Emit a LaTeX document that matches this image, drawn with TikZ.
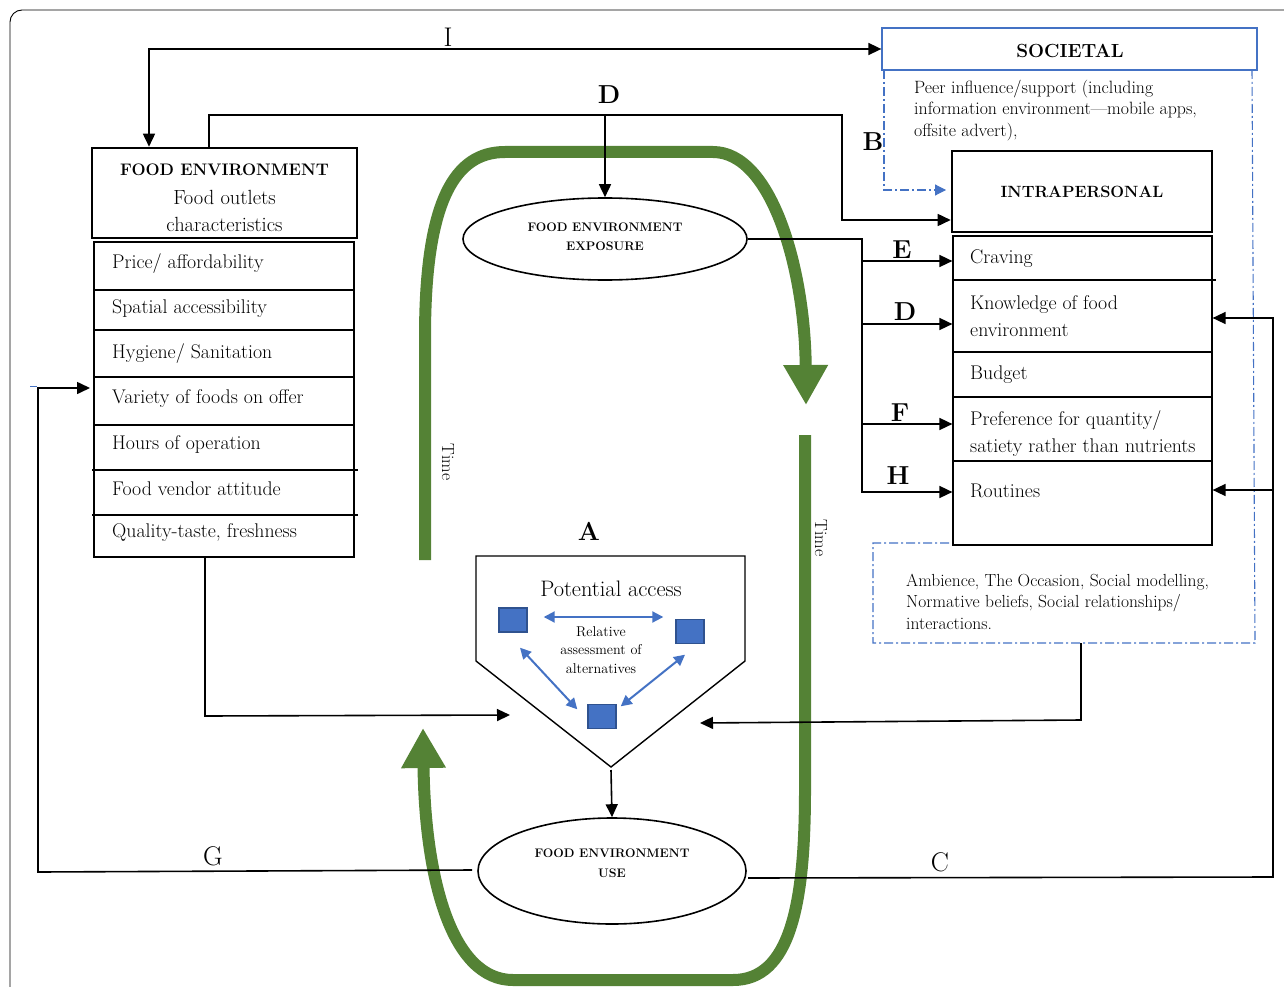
\documentclass[tikz,border=0pt]{standalone}
\usetikzlibrary{arrows.meta,shapes.geometric,calc}
\definecolor{gr}{HTML}{548235}
\definecolor{bl}{HTML}{4472C4}
\definecolor{sqb}{HTML}{2F528F}
\newcommand\myfs[2]{\fontsize{#1}{#2}\selectfont}
\begin{document}
\begin{tikzpicture}[x=1pt,y=-1pt,
  ln/.style={line width=1.6pt},
  conn/.style={line width=1.6pt,-{Triangle[length=13pt,width=12pt]}},
  bothconn/.style={line width=1.6pt,{Triangle[length=13pt,width=12pt]}-{Triangle[length=13pt,width=12pt]}},
  box/.style={draw,line width=1.2pt,inner sep=0pt},
  hbox/.style={draw,line width=2.6pt,inner sep=0pt},
  item/.style={anchor=west,font=\myfs{19.8}{27},align=left,inner sep=0pt},
  lett/.style={font=\bfseries\myfs{26}{30},inner sep=0pt},
  lettr/.style={font=\myfs{27}{30},inner sep=0pt},
  garrow/.style={draw=gr,line width=12pt,-{Triangle[length=40pt,width=42pt]}},
  ddash/.style={draw=bl,line width=1.1pt,dash pattern=on 9pt off 3pt on 2pt off 3pt},
  sq/.style={draw=sqb,fill=bl,line width=1.4pt,minimum width=28pt,minimum height=24pt,inner sep=0pt},
  barrow/.style={draw=bl,line width=2pt,{Triangle[length=11pt,width=11pt]}-{Triangle[length=11pt,width=11pt]}},
  ell/.style={ellipse,draw,line width=1.6pt,inner sep=0pt},
]
\useasboundingbox (0,0) rectangle (1284,987);
% frame
\draw[line width=0.9pt,rounded corners=12pt] (1300,10) -- (10,10) -- (10,1000);

% ---------- green time arrows ----------
\draw[garrow] (425,560) -- (425,337) .. controls (425,200) and (455,152) .. (505,152)
   -- (713,152) .. controls (772,152) and (805,270) .. (806,405);
\draw[garrow] (805,435) -- (805,790) .. controls (805,905) and (790,980) .. (733,980)
   -- (513,980) .. controls (452,980) and (425,880) .. (423,728);
\node[rotate=-90,font=\myfs{17.5}{18}] (t1) at (448,462) {Time};
\node[rotate=-90,font=\myfs{17.5}{18}] (t2) at (821,538) {Time};

% ---------- food environment ----------
\node[hbox,minimum width=265pt,minimum height=90pt] (fehead) at (224.5,193) {};
\node[font=\bfseries\myfs{16.7}{20}] (fet1) at (224.5,170) {FOOD ENVIRONMENT};
\node[font=\myfs{20.5}{27},align=center] (fet2) at (224.5,210.5) {Food outlets\\characteristics};
\node[box,minimum width=260pt,minimum height=315pt] (felist) at (224,399.5) {};
\foreach \yy in {290,330,377,425}{\draw[line width=1.2pt] (94,\yy) -- (354,\yy);}
\foreach \yy in {470,515}{\draw[line width=1.2pt] (92,\yy) -- (358,\yy);}
\node[item] (p1) at (112,264) {Price/ affordability};
\node[item] (p2) at (112,309) {Spatial accessibility};
\node[item] (p3) at (112,354) {Hygiene/ Sanitation};
\node[item] (p4) at (112,399) {Variety of foods on offer};
\node[item] (p5) at (112,444) {Hours of operation};
\node[item] (p6) at (112,489) {Food vendor attitude};
\node[item] (p7) at (112,533) {Quality-taste, freshness};

% ---------- societal ----------
\node[draw=bl,line width=1.3pt,minimum width=375pt,minimum height=42pt,inner sep=0pt] (soc) at (1069.5,49) {};
\node[font=\bfseries\myfs{19}{20}] (soct) at (1070,51) {SOCIETAL};
\node[anchor=west,align=left,font=\myfs{17.8}{21.5},inner sep=0pt] (peer) at (914,110.5)
  {Peer influence/support (including\\information environment---mobile apps,\\offsite advert),};
\coordinate (bs) at (884,70);
\coordinate (bc) at (884,190);
\coordinate (be) at (946,190);
\draw[ddash,-{Triangle[length=11pt,width=11pt]}] (bs) -- (bc) -- (be);
\draw[ddash] (1252,70) -- (1255,643) -- (873,643) -- (873,543) -- (952,543);
\node[lett] (lb) at (873,142) {B};
\node[anchor=west,align=left,font=\myfs{17.5}{21.5},inner sep=0pt] (amb) at (906,601.5)
  {Ambience, The Occasion, Social modelling,\\Normative beliefs, Social relationships/\\interactions.};

% ---------- intrapersonal ----------
\node[hbox,minimum width=260pt,minimum height=81pt] (intra) at (1082,191.5) {};
\node[font=\bfseries\myfs{16.3}{20}] (intrat) at (1082,192) {INTRAPERSONAL};
\node[box,minimum width=259pt,minimum height=309pt,fill=white] (ilist) at (1082.5,390.5) {};
\draw[line width=1.2pt] (953,280) -- (1216,280);
\foreach \yy in {352,397,461}{\draw[line width=1.2pt] (953,\yy) -- (1212,\yy);}
\node[item] (q1) at (970,259) {Craving};
\node[item] (q2) at (970,316.5) {Knowledge of food\\environment};
\node[item] (q3) at (970,375) {Budget};
\node[item] (q4) at (970,433.5) {Preference for quantity/\\satiety rather than nutrients};
\node[item] (q5) at (970,491) {Routines};

% ---------- ellipses ----------
\node[ell,minimum width=284pt,minimum height=82pt] (expo) at (605,239) {};
\node[font=\bfseries\myfs{12.4}{19.5},align=center] (expot) at (605,236.5) {FOOD ENVIRONMENT\\EXPOSURE};
\node[ell,minimum width=268pt,minimum height=106pt] (use) at (612,871) {};
\node[font=\bfseries\myfs{12.4}{19.5},align=center] (uset) at (612,863) {FOOD ENVIRONMENT\\USE};

% ---------- potential access ----------
\coordinate (pa1) at (476,556);
\coordinate (pa2) at (745,556);
\coordinate (pa3) at (745,661);
\coordinate (pa4) at (611,767);
\coordinate (pa5) at (476,661);
\draw[line width=1.4pt,fill=white] (pa1) -- (pa2) -- (pa3) -- (pa4) -- (pa5) -- cycle;
\node[lett] (la) at (589,531) {A};
\node[font=\myfs{22.4}{24}] (pat) at (611,589) {Potential access};
\node[sq] (s1) at (513,620) {};
\node[sq] (s2) at (690,631.5) {};
\node[sq] (s3) at (602,716.5) {};
\node[font=\myfs{14.2}{18.5},align=center] (rel) at (601,650) {Relative\\assessment of\\alternatives};
\draw[barrow] ($(s1.east)+(16,-3)$) -- ($(s2.west)+(-12,-14.5)$);
\draw[barrow] ($(s1.south)+(7,15)$) -- ($(s3.north west)+(-10,5.5)$);
\draw[barrow] ($(s2.south)+(-5,10.5)$) -- ($(s3.north east)+(4,2.5)$);

% ---------- connectors ----------
% I
\coordinate (iL) at (149,49);
\draw[bothconn] (iL |- fehead.north) -- (iL) -- (soc.west);
\node[lettr] (li) at (448,37) {I};
% food env -> intrapersonal
\coordinate (fa) at (209,115);
\coordinate (fb) at (842,115);
\coordinate (fc) at (842,220);
\draw[conn] (fa |- fehead.north) -- (fa) -- (fb) -- (fc) -- (fc -| intra.west);
% D top
\coordinate (dtop) at (605,115);
\draw[conn] (dtop) -- (expo.north);
\node[lett] (ld1) at (609,95) {D};
% exposure -> bus
\coordinate (bus1) at (862,239);
\coordinate (bus2) at (862,493);
\draw[ln] (expo.east) -- (bus1) -- (bus2);
\coordinate (ye) at (862,261);
\coordinate (yd) at (862,324);
\coordinate (yf) at (862,424);
\coordinate (yh) at (862,492);
\draw[conn] (ye) -- (ye -| ilist.west);
\draw[conn] (yd) -- (yd -| ilist.west);
\draw[conn] (yf) -- (yf -| ilist.west);
\draw[conn] (yh) -- (yh -| ilist.west);
\node[lett] (le) at (902,250) {E};
\node[lett] (ld2) at (905,312) {D};
\node[lett] (lf) at (900,413) {F};
\node[lett] (lh) at (898,476) {H};
% food list -> potential access
\coordinate (fl1) at (205,716);
\coordinate (fl2) at (510,715);
\draw[conn] (fl1 |- felist.south) -- (fl1) -- (fl2);
% ambience -> potential access
\coordinate (am1) at (1081,643);
\coordinate (am2) at (1081,720);
\coordinate (am3) at (700,723);
\draw[conn] (am1) -- (am2) -- (am3);
% potential access -> use
\draw[conn] (pa4) ++(0,3) -- (use.north);
% G
\coordinate (g0) at (472,870);
\coordinate (g1) at (38,872);
\coordinate (g2) at (38,388);
\coordinate (g3) at (90,388);
\draw[conn] (g0) -- (g1) -- (g2) -- (g3);
\draw[bl,line width=1pt] (30,386) -- (37,386);
\node[lettr] (lg) at (213,856) {G};
% C
\coordinate (c0) at (748,878);
\coordinate (c1) at (1273,877);
\coordinate (c2) at (1273,318);
\coordinate (c3) at (1273,490);
\draw[conn] (c0) -- (c1) -- (c2) -- (c2 -| ilist.east);
\draw[conn] (c3) -- (c3 -| ilist.east);
\node[lettr] (lc) at (940,862) {C};
\end{tikzpicture}
\end{document}
